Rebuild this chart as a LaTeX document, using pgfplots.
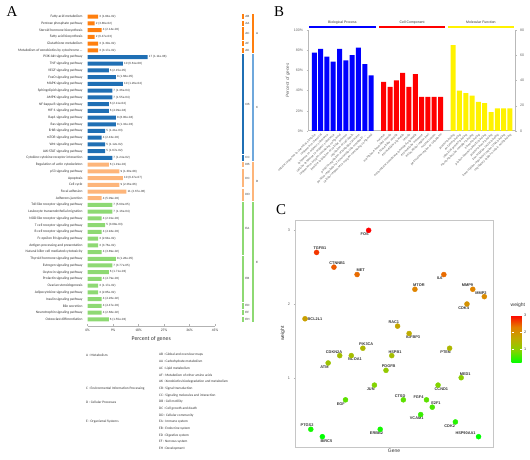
\documentclass[border=0pt]{standalone}
\usepackage{fontspec}
\setmainfont{Liberation Sans}
\newfontfamily\carlito{Carlito}
\newfontfamily\serifletter{Liberation Serif}
\usepackage{pgfplots}
\pgfplotsset{compat=1.18}
\definecolor{cA}{HTML}{FF7F0E}
\definecolor{cC}{HTML}{1F6FB4}
\definecolor{cCL}{HTML}{6FA8DC}
\definecolor{cD}{HTML}{FDB57A}
\definecolor{cE}{HTML}{8ED973}
\definecolor{txt}{HTML}{333333}
\begin{document}
\begin{tikzpicture}
\useasboundingbox (0,0) rectangle (530bp,460bp);
% panel letters
\node[font=\serifletter\fontsize{15}{16}\selectfont] at (12bp,448bp) {A};
\node[font=\serifletter\fontsize{15}{16}\selectfont] at (279bp,448bp) {B};
\node[font=\serifletter\fontsize{15}{16}\selectfont] at (281bp,250bp) {C};

% ================= Panel A =================
\begin{axis}[
  name=A, scale only axis, width=127.5bp, height=312.7bp,
  anchor=north west, at={(87.5bp,446.7bp)},
  xbar, bar width=4bp, bar shift=0pt,
  xmin=0, xmax=45, ymin=-0.5, ymax=46, y dir=reverse,
  axis x line*=bottom, axis y line*=left,
  y axis line style={draw=none},
  x axis line style={draw=gray!60, line width=0.5bp, -},
  xtick={0,9,18,27,36,45}, xticklabels={0\%,9\%,18\%,27\%,36\%,45\%},
  xtick style={draw=gray!60, line width=0.4bp}, tick align=inside, major tick length=2bp,
  ytick={0,1,2,3,4,5,6,7,8,9,10,11,12,13,14,15,16,17,18,19,20,21,22,23,24,25,26,27,28,29,30,31,32,33,34,35,36,37,38,39,40,41,42,43,44,45}, ytick style={draw=none},
  yticklabels={Fatty acid metabolism, Pentose phosphate pathway, Steroid hormone biosynthesis, Fatty acid biosynthesis, Glutathione metabolism, Metabolism of xenobiotics by cytochrome \ldots, PI3K-Akt signaling pathway, TNF signaling pathway, VEGF signaling pathway, FoxO signaling pathway, MAPK signaling pathway, Sphingolipid signaling pathway, AMPK signaling pathway, NF-kappa B signaling pathway, HIF-1 signaling pathway, Rap1 signaling pathway, Ras signaling pathway, ErbB signaling pathway, mTOR signaling pathway, Wnt signaling pathway, JAK-STAT signaling pathway, Cytokine-cytokine receptor interaction, Regulation of actin cytoskeleton, p53 signaling pathway, Apoptosis, Cell cycle, Focal adhesion, Adherens junction, Toll-like receptor signaling pathway, Leukocyte transendothelial migration, NOD-like receptor signaling pathway, T cell receptor signaling pathway, B cell receptor signaling pathway, Fc epsilon RI signaling pathway, Antigen processing and presentation, Natural killer cell mediated cytotoxicity, Thyroid hormone signaling pathway, Estrogen signaling pathway, Oxytocin signaling pathway, Prolactin signaling pathway, Ovarian steroidogenesis, Adipocytokine signaling pathway, Insulin signaling pathway, Bile secretion, Neurotrophin signaling pathway, Osteoclast differentiation},
  yticklabel style={font=\carlito\fontsize{3.6}{4}\selectfont, text=txt, xshift=-1.5bp},
  xticklabel style={font=\carlito\fontsize{3.6}{4}\selectfont, text=txt},
  xlabel={Percent of genes}, xlabel style={font=\carlito\fontsize{5.8}{6}\selectfont, text=txt, yshift=2bp},
  nodes near coords, point meta=explicit symbolic,
  every node near coord/.append style={font=\fontsize{3}{3.5}\selectfont, text=txt, anchor=west, inner sep=1bp},
  clip=false,
]
\addplot[fill=cA, draw=none] coordinates {
(3.75,0)[3 (1.84e-02)] (2.5,1)[2 (3.86e-02)] (5,2)[4 (2.14e-03)] (2.5,3)[2 (6.47e-03)] (3.75,4)[3 (1.30e-02)] (3.75,5)[3 (3.17e-02)]};
\addplot[fill=cC, draw=none] coordinates {
(21.25,6)[17 (1.11e-08)] (12.5,7)[10 (6.61e-08)] (7.5,8)[6 (2.15e-05)] (10,9)[8 (1.68e-05)] (12.5,10)[10 (1.26e-04)] (8.75,11)[7 (1.36e-04)] (8.75,12)[7 (1.55e-04)] (7.5,13)[6 (2.11e-04)] (7.5,14)[6 (4.09e-04)] (10,15)[8 (8.00e-04)] (10,16)[8 (1.32e-03)] (6.25,17)[5 (1.41e-03)] (5,18)[4 (2.43e-03)] (6.25,19)[5 (1.12e-02)] (6.25,20)[5 (1.67e-02)] (8.75,21)[7 (1.24e-02)]};
\addplot[fill=cD, draw=none] coordinates {
(7.5,22)[6 (1.19e-02)] (11.25,23)[9 (1.30e-08)] (12.5,24)[10 (6.47e-07)] (11.25,25)[9 (2.26e-06)] (13.75,26)[11 (2.67e-06)] (5,27)[4 (5.09e-03)]};
\addplot[fill=cE, draw=none] coordinates {
(8.75,28)[7 (5.60e-05)] (8.75,29)[7 (1.16e-04)] (5,30)[4 (2.01e-03)] (6.25,31)[5 (3.08e-03)] (5,32)[4 (4.94e-03)] (3.75,33)[3 (2.64e-02)] (3.75,34)[3 (3.76e-02)] (5,35)[4 (3.89e-02)] (10,36)[8 (1.28e-05)] (8.75,37)[7 (3.77e-05)] (7.5,38)[6 (1.71e-03)] (5,39)[4 (4.79e-03)] (3.75,40)[3 (1.17e-02)] (3.75,41)[3 (2.85e-02)] (5,42)[4 (4.26e-02)] (5,43)[4 (4.47e-03)] (5,44)[4 (2.68e-02)] (7.5,45)[6 (1.55e-03)]};
% small category brackets
\fill[cA] (axis cs:54.4,-0.4) rectangle (axis cs:55.2,0.4);
\fill[cA] (axis cs:54.4,0.6) rectangle (axis cs:55.2,1.4);
\fill[cA] (axis cs:54.4,1.6) rectangle (axis cs:55.2,3.4);
\fill[cA] (axis cs:54.4,3.6) rectangle (axis cs:55.2,4.4);
\fill[cA] (axis cs:54.4,4.6) rectangle (axis cs:55.2,5.4);
\fill[cC] (axis cs:54.4,5.6) rectangle (axis cs:55.2,20.4);
\fill[cC] (axis cs:54.4,20.6) rectangle (axis cs:55.2,21.4);
\fill[cD] (axis cs:54.4,21.6) rectangle (axis cs:55.2,22.4);
\fill[cD] (axis cs:54.4,22.6) rectangle (axis cs:55.2,25.4);
\fill[cD] (axis cs:54.4,25.6) rectangle (axis cs:55.2,27.4);
\fill[cE] (axis cs:54.4,27.6) rectangle (axis cs:55.2,35.4);
\fill[cE] (axis cs:54.4,35.6) rectangle (axis cs:55.2,42.4);
\fill[cE] (axis cs:54.4,42.6) rectangle (axis cs:55.2,43.4);
\fill[cE] (axis cs:54.4,43.6) rectangle (axis cs:55.2,44.4);
\fill[cE] (axis cs:54.4,44.6) rectangle (axis cs:55.2,45.4);
\begin{scope}[every node/.style={font=\fontsize{3}{3.5}\selectfont, text=txt, anchor=west, inner sep=0.5bp}]
\node at (axis cs:55.5,0) {AB};
\node at (axis cs:55.5,1) {AA};
\node at (axis cs:55.5,2.5) {AC};
\node at (axis cs:55.5,4) {AF};
\node at (axis cs:55.5,5) {AK};
\node at (axis cs:55.5,13) {CB};
\node at (axis cs:55.5,21) {CC};
\node at (axis cs:55.5,22) {DB};
\node at (axis cs:55.5,24) {DC};
\node at (axis cs:55.5,26.5) {DD};
\node at (axis cs:55.5,31.5) {EA};
\node at (axis cs:55.5,39) {EB};
\node at (axis cs:55.5,43) {ED};
\node at (axis cs:55.5,44) {EF};
\node at (axis cs:55.5,45) {EH};
\node at (axis cs:59.3,2.5) {A};
\node at (axis cs:59.3,13.5) {C};
\node at (axis cs:59.3,24.5) {D};
\node at (axis cs:59.3,36.5) {E};
\end{scope}
% large category bars
\fill[cA] (axis cs:57.95,-0.4) rectangle (axis cs:58.85,5.4);
\fill[cCL] (axis cs:57.95,5.6) rectangle (axis cs:58.85,21.4);
\fill[cD] (axis cs:57.95,21.6) rectangle (axis cs:58.85,27.4);
\fill[cE] (axis cs:57.95,27.6) rectangle (axis cs:58.85,45.4);
\end{axis}

% legend text of panel A
\begin{scope}[every node/.style={font=\carlito\fontsize{3.5}{4}\selectfont, text=txt, anchor=west, inner sep=0pt}]
\node at (86bp,105bp) {A : Metabolism};
\node at (86bp,71.5bp) {C : Environmental Information Processing};
\node at (86bp,58.1bp) {D : Cellular Processes};
\node at (86bp,38bp) {E : Organismal Systems};
\node at (159bp,105bp) {AB : Global and overview maps};
\node at (159bp,98.3bp) {AA : Carbohydrate metabolism};
\node at (159bp,91.6bp) {AC : Lipid metabolism};
\node at (159bp,84.9bp) {AF : Metabolism of other amino acids};
\node at (159bp,78.2bp) {AK : Xenobiotics biodegradation and metabolism};
\node at (159bp,71.5bp) {CB : Signal transduction};
\node at (159bp,64.8bp) {CC : Signaling molecules and interaction};
\node at (159bp,58.1bp) {DB : Cell motility};
\node at (159bp,51.4bp) {DC : Cell growth and death};
\node at (159bp,44.7bp) {DD : Cellular community};
\node at (159bp,38bp) {EA : Immune system};
\node at (159bp,31.3bp) {EB : Endocrine system};
\node at (159bp,24.6bp) {ED : Digestive system};
\node at (159bp,17.9bp) {EF : Nervous system};
\node at (159bp,11.2bp) {EH : Development};
\end{scope}

% ================= Panel B =================
\begin{axis}[
  name=B, scale only axis, width=207bp, height=101bp,
  anchor=south west, at={(308bp,329bp)},
  ybar, bar width=5bp, bar shift=0pt,
  xmin=-1, xmax=31.8, ymin=0, ymax=100,
  axis x line*=bottom, axis y line*=left,
  axis line style={draw=gray!55, line width=1bp, -},
  ytick={0,20,40,60,80,100}, yticklabels={0\%,20\%,40\%,60\%,80\%,100\%},
  ytick style={draw=gray!55, line width=0.4bp}, tick align=outside, major tick length=1.5bp,
  xtick={0,1,2,3,4,5,6,7,8,9,11,12,13,14,15,16,17,18,19,20,22,23,24,25,26,27,28,29,30,31},
  xtick style={draw=none},
  xticklabels={cellular response to chemical stimulus, response to chemical, response to organic substance, cellular response to organic substance, response to oxygen-containing compound, positive regulation of cellular process, regulation of cell death, positive regulation of biological process, positive regulation of macromolecule metabolic \ldots, cellular response to oxygen-containing compound, nucleus, membrane-bounded vesicle, extracellular vesicle, extracellular organelle, vesicle, extracellular membrane-bounded organelle, extracellular exosome, extracellular region part, nuclear lumen, perinuclear region of cytoplasm, protein binding, enzyme binding, identical protein binding, macromolecular complex binding, kinase binding, protein domain specific binding, protein kinase binding, transcription factor binding, transcription regulatory region DNA binding, regulatory region nucleic acid binding},
  xticklabel style={rotate=45, anchor=north east, font=\fontsize{3.1}{3.4}\selectfont, text=gray!80!black, inner sep=0.5bp},
  yticklabel style={font=\fontsize{3.6}{4}\selectfont, text=gray!80!black},
  ylabel={Percent of genes}, ylabel style={font=\itshape\fontsize{4.6}{5}\selectfont, text=gray!80!black, yshift=-3bp},
  clip=false,
]
\addplot[fill=blue, draw=none] coordinates {(0,77.5) (1,81.25) (2,73.75) (3,68.75) (4,81.25) (5,70) (6,75) (7,82.5) (8,66.25) (9,55)};
\addplot[fill=red, draw=none] coordinates {(11,48.75) (12,43.75) (13,50) (14,57.5) (15,43.75) (16,56.25) (17,33.75) (18,33.75) (19,33.75) (20,33.75)};
\addplot[fill=yellow, draw=none] coordinates {(22,85) (23,40) (24,37.5) (25,35) (26,28.75) (27,27.5) (28,18.75) (29,22.5) (30,22.5) (31,22.5)};
\draw[blue, line width=2bp] (axis cs:-0.84,102.5) -- (axis cs:9.73,102.5);
\draw[red, line width=2bp] (axis cs:10.25,102.5) -- (axis cs:20.7,102.5);
\draw[yellow, line width=2bp] (axis cs:21.2,102.5) -- (axis cs:31.6,102.5);
\begin{scope}[every node/.style={font=\fontsize{3.5}{4}\selectfont, text=txt, inner sep=0pt}]
\node at (axis cs:4.45,107.2) {Biological Process};
\node at (axis cs:15.5,107.2) {Cell Component};
\node at (axis cs:26.4,107.2) {Molecular Function};
\end{scope}
\end{axis}
\begin{axis}[
  scale only axis, width=207bp, height=101bp,
  anchor=south west, at={(308bp,329bp)},
  xmin=-1, xmax=31.8, ymin=0, ymax=80,
  axis y line*=right, axis x line=none,
  axis line style={draw=gray!55, line width=1bp, -},
  ytick={0,20,40,60,80},
  ytick style={draw=gray!55, line width=0.4bp}, tick align=outside, major tick length=1.5bp,
  yticklabel style={font=\fontsize{3.6}{4}\selectfont, text=gray!80!black, /pgf/number format/assume math mode=true},
]
\addplot[draw=none] coordinates {(0,0)};
\end{axis}

% ================= Panel C =================
\begin{axis}[
  name=C, scale only axis, width=198bp, height=227bp,
  anchor=south west, at={(295bp,13bp)},
  xmin=-0.73, xmax=33.5, ymin=0.06, ymax=3.14,
  xtick=\empty, ytick={1,2,3}, ytick pos=left,
  axis line style={draw=gray!45, line width=0.9bp},
  ytick style={draw=gray!60, line width=0.4bp}, tick align=outside, major tick length=1.5bp,
  yticklabel style={font=\fontsize{3.8}{4}\selectfont, text=gray!70!black, /pgf/number format/assume math mode=true},
  xlabel={Gene}, ylabel={weight},
  xlabel style={font=\fontsize{5}{6}\selectfont, text=txt, yshift=3bp},
  ylabel style={font=\fontsize{5}{6}\selectfont, text=txt, yshift=-4bp},
  colormap={gr}{rgb255=(0,255,0) rgb255=(130,212,0) rgb255=(190,172,0) rgb255=(228,125,0) rgb255=(255,0,0)},
  point meta min=0.2, point meta max=3,
  colorbar,
  colorbar style={
    scale only axis,
    at={(parent axis.north east)}, anchor=north west, xshift=10bp, yshift=-95bp,
    width=10bp, height=47.7bp,
    ymin=0.2, ymax=3, ytick={1,2,3},
    axis line style={draw=none},
    ytick style={draw=white, line width=0.4bp}, major tick length=2bp,
    yticklabel style={font=\fontsize{3.8}{4}\selectfont, text=txt, /pgf/number format/assume math mode=true, xshift=-1bp},
    title={weight}, title style={font=\fontsize{5}{6}\selectfont, text=txt, anchor=south west, at={(0,1)}, xshift=-1bp, yshift=1.5bp, inner sep=0pt},
  },
  clip=false,
]
\addplot[scatter, only marks, mark=*, mark size=2.5bp,
  scatter/use mapped color={draw=mapped color, fill=mapped color},
  point meta=explicit] table[meta=w] {
x y w
1 1.8 1.8
2 0.3 0.3
3 2.7 2.7
4 0.2 0.2
5 1.2 1.2
6 2.5 2.5
7 1.3 1.3
8 0.7 0.7
9 1.3 1.3
10 2.4 2.4
11 1.4 1.4
12 3.0 3.0
13 0.9 0.9
14 0.3 0.3
15 1.1 1.1
16 1.3 1.3
17 1.7 1.7
18 0.7 0.7
19 1.6 1.6
20 2.2 2.2
21 0.5 0.5
22 0.7 0.7
23 0.6 0.6
24 0.9 0.9
25 2.4 2.4
26 1.4 1.4
27 0.4 0.4
28 1.0 1.0
29 2.0 2.0
30 2.2 2.2
31 0.2 0.2
32 2.1 2.1
};
\begin{scope}[every node/.style={font=\bfseries\fontsize{3.9}{4}\selectfont, text=txt, inner sep=0pt}]
\node[xshift=10bp] at (axis cs:1,1.8) {BCL2L1};
\node[xshift=-3.7bp,yshift=4bp] at (axis cs:2,0.3) {PTGS2};
\node[xshift=3.3bp,yshift=4.3bp] at (axis cs:3,2.7) {TGFB1};
\node[xshift=4bp,yshift=-4bp] at (axis cs:4,0.2) {BIRC5};
\node[xshift=-3.7bp,yshift=-3.7bp] at (axis cs:5,1.2) {ATM};
\node[xshift=3.3bp,yshift=4.3bp] at (axis cs:6,2.5) {CTNNB1};
\node[xshift=-5.7bp,yshift=3.7bp] at (axis cs:7,1.3) {CDKN2A};
\node[xshift=-4.7bp,yshift=-4bp] at (axis cs:8,0.7) {EGF};
\node[xshift=3.7bp,yshift=-4bp] at (axis cs:9,1.3) {NCOA1};
\node[xshift=3.7bp,yshift=4.3bp] at (axis cs:10,2.4) {MET};
\node[xshift=3.3bp,yshift=4bp] at (axis cs:11,1.4) {PIK3CA};
\node[xshift=-4bp,yshift=-3.7bp] at (axis cs:12,3.0) {FOS};
\node[xshift=-3.7bp,yshift=-4bp] at (axis cs:13,0.9) {JUN};
\node[xshift=-3.7bp,yshift=-4bp] at (axis cs:14,0.3) {ERBB2};
\node[xshift=2.7bp,yshift=4.3bp] at (axis cs:15,1.1) {PDGFB};
\node[xshift=3.3bp,yshift=3.7bp] at (axis cs:16,1.3) {HSPB1};
\node[xshift=-3.7bp,yshift=4bp] at (axis cs:17,1.7) {RAC1};
\node[xshift=-3.3bp,yshift=4bp] at (axis cs:18,0.7) {CTSD};
\node[xshift=4bp,yshift=-4bp] at (axis cs:19,1.6) {IGFBP3};
\node[xshift=4bp,yshift=4bp] at (axis cs:20,2.2) {MTOR};
\node[xshift=-4bp,yshift=-4bp] at (axis cs:21,0.5) {VCAM1};
\node[xshift=-8bp,yshift=2.7bp] at (axis cs:22,0.7) {FGF4};
\node[xshift=3.7bp,yshift=4bp] at (axis cs:23,0.6) {E2F1};
\node[xshift=3.3bp,yshift=-4bp] at (axis cs:24,0.9) {CCND1};
\node[xshift=-4bp,yshift=-4bp] at (axis cs:25,2.4) {IL6};
\node[xshift=-4bp,yshift=-4bp] at (axis cs:26,1.4) {PTEN};
\node[xshift=-5.7bp,yshift=-4bp] at (axis cs:27,0.4) {CDK2};
\node[xshift=4bp,yshift=4bp] at (axis cs:28,1.0) {MED1};
\node[xshift=-3.3bp,yshift=-4.3bp] at (axis cs:29,2.0) {CDK4};
\node[xshift=-5.3bp,yshift=4.3bp] at (axis cs:30,2.2) {MMP9};
\node[xshift=-13bp,yshift=3.7bp] at (axis cs:31,0.2) {HSP90AA1};
\node[xshift=-3.3bp,yshift=4bp] at (axis cs:32,2.1) {MMP2};
\end{scope}
\end{axis}
\end{tikzpicture}
\end{document}
